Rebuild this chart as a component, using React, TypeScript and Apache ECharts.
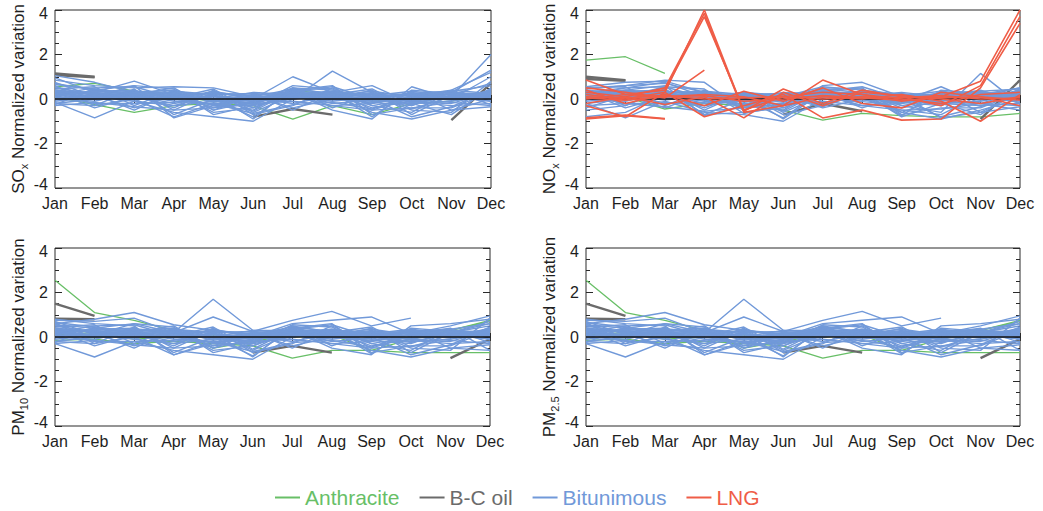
import React, { useEffect, useRef } from 'react';
import * as echarts from 'echarts';

type Line = (number | null)[];
const N = null;

const months = ['Jan', 'Feb', 'Mar', 'Apr', 'May', 'Jun', 'Jul', 'Aug', 'Sep', 'Oct', 'Nov', 'Dec'];
const fuelNames = ['Anthracite', 'B-C oil', 'Bitunimous', 'LNG'];
const zeroLine = [0, 0, 0, 0, 0, 0, 0, 0, 0, 0, 0, 0];

// ---------- SOx ----------
const soxAnthracite: Line[] = [
  [0.55, 0.7, 0.35, 0.1, -0.1, -0.2, 0.4, 0.2, -0.1, 0.0, 0.1, 0.3],
  [0.1, -0.25, -0.6, -0.3, -0.2, -0.3, -0.9, -0.3, -0.7, -0.2, -0.1, 0.2],
];
const soxBCOil: Line[] = [
  [1.15, 1.0, N, N, N, N, N, N, N, N, N, N],
  [1.08, 0.97, N, N, N, N, N, N, N, N, N, N],
  [N, N, N, N, N, -0.8, -0.45, -0.7, N, N, N, N],
  [N, N, N, N, N, N, N, N, N, N, -0.95, 0.7],
];
const soxBitunimous: Line[] = [
  [0.2, 0.15, 0.1, 0.05, -0.05, -0.1, 0.1, 0.05, -0.1, -0.05, 0.0, 0.1],
  [0.1, 0.0, 0.2, -0.1, -0.2, -0.15, 0.2, 0.1, 0.0, -0.2, -0.1, 0.2],
  [0.3, 0.2, 0.0, 0.1, 0.0, -0.2, 0.3, 0.2, -0.2, 0.1, 0.2, 0.0],
  [-0.1, 0.1, -0.1, -0.3, -0.1, 0.0, 0.1, -0.1, 0.1, -0.1, -0.2, 0.3],
  [0.0, -0.1, 0.3, 0.2, -0.3, -0.3, 0.0, 0.3, -0.3, 0.0, 0.1, -0.1],
  [0.25, 0.3, 0.15, -0.2, 0.1, -0.1, 0.35, 0.0, -0.15, -0.3, 0.3, 0.2],
  [-0.2, 0.0, 0.05, 0.0, -0.25, 0.05, -0.2, 0.15, 0.2, -0.15, -0.3, -0.2],
  [0.15, -0.2, -0.2, -0.15, 0.2, -0.4, 0.25, -0.2, -0.05, 0.25, 0.0, 0.4],
  [0.4, 0.25, 0.35, 0.3, -0.15, 0.1, 0.45, 0.25, -0.4, -0.1, 0.25, 0.1],
  [-0.3, -0.15, -0.35, -0.5, -0.4, -0.2, -0.1, -0.3, -0.5, -0.4, -0.15, -0.3],
  [0.05, 0.1, -0.05, 0.15, -0.05, -0.25, 0.05, -0.05, 0.05, -0.25, 0.15, 0.05],
  [0.35, 0.05, 0.25, -0.05, 0.15, -0.05, 0.2, 0.35, 0.1, 0.2, -0.05, 0.35],
  [0.3, 0.25, 0.2, 0.15, 0.1, 0.05, 0.25, 0.2, 0.1, 0.15, 0.2, 0.3],
  [0.15, 0.35, 0.3, 0.2, 0.25, 0.1, 0.15, 0.3, 0.2, 0.05, 0.1, 0.25],
  [0.4, 0.2, 0.1, 0.3, 0.15, -0.05, 0.35, 0.1, 0.25, 0.2, 0.3, 0.1],
  [0.05, 0.15, 0.25, 0.05, 0.3, 0.15, 0.05, 0.25, -0.05, 0.3, 0.05, 0.35],
  [0.25, 0.05, 0.35, 0.25, -0.05, 0.2, 0.3, 0.05, 0.3, -0.05, 0.25, 0.15],
  [0.35, 0.3, 0.0, 0.35, 0.2, 0.25, 0.1, 0.35, 0.05, 0.25, 0.35, 0.05],
  [0.1, 0.4, 0.15, 0.0, 0.35, 0.0, 0.4, 0.15, 0.35, 0.1, -0.05, 0.3],
  [0.2, 0.0, 0.3, 0.4, 0.0, 0.3, 0.2, 0.0, 0.15, 0.35, 0.15, 0.2],
  [1.05, 0.75, 0.3, 0.1, 0.0, -0.2, 0.2, 0.1, 0.0, -0.1, 0.1, 2.0],
  [0.95, 0.3, 0.8, 0.2, -0.3, -0.5, 0.5, 0.4, 0.1, 0.2, 0.3, 1.3],
  [0.85, 0.6, 0.5, 0.55, 0.5, 0.1, 0.0, 1.25, 0.3, -0.3, 0.4, 1.2],
  [-0.15, -0.85, -0.1, -0.6, -0.8, -1.0, 0.0, 0.2, -0.6, -0.9, -0.5, 0.0],
  [0.7, 0.4, 0.6, -0.85, -0.3, 0.0, 1.0, 0.3, 0.6, -0.2, -0.7, 0.5],
  [0.5, 0.2, -0.5, 0.3, -0.6, -0.4, 0.3, -0.5, -0.9, 0.55, 0.0, 1.0],
  [-0.25, 0.45, 0.2, -0.4, 0.4, -0.7, -0.3, 0.5, -0.3, -0.6, 0.35, -0.25],
  [0.6, -0.3, 0.45, -0.7, 0.0, -0.8, 0.4, 0.6, -0.7, -0.4, -0.4, 0.3],
  [0.45, 0.55, -0.3, 0.4, -0.5, 0.15, -0.4, 0.0, 0.4, -0.7, 0.2, 0.7],
  [-0.05, 0.35, 0.4, -0.5, 0.3, -0.6, 0.15, -0.3, -0.2, 0.3, -0.5, -0.35],
  [0.75, 0.1, 0.6, 0.45, -0.7, -0.3, 0.6, 0.45, -0.5, 0.05, 0.35, 0.6],
  [0.3, -0.4, 0.1, -0.3, 0.2, -0.9, 0.5, -0.4, 0.2, -0.5, -0.6, 0.8],
  [0.55, 0.15, -0.4, 0.25, -0.4, 0.2, -0.5, 0.3, -0.8, 0.4, 0.25, -0.1],
  [0.2, 0.5, 0.55, 0.05, 0.45, -0.55, 0.35, 0.55, 0.0, -0.8, -0.35, 0.45],
  [-0.2, -0.3, 0.0, -0.8, -0.2, -0.65, -0.25, -0.15, -0.45, 0.15, 0.4, 0.25],
  [0.65, 0.45, 0.2, 0.5, -0.5, -0.1, 0.5, 0.2, 0.45, -0.45, 0.1, 0.15],
];
const soxLNG: Line[] = [];

// ---------- NOx ----------
const noxAnthracite: Line[] = [
  [1.75, 1.9, 1.15, N, N, N, N, N, N, N, N, N],
  [0.2, 0.1, -0.45, -0.2, -0.3, -0.5, -0.95, -0.65, -0.75, -0.8, -0.8, -0.65],
];
const noxBCOil: Line[] = [
  [1.0, 0.85, N, N, N, N, N, N, N, N, N, N],
  [0.9, 0.82, N, N, N, N, N, N, N, N, N, N],
  [N, N, N, N, N, -0.7, -0.2, -0.55, N, N, N, N],
  [N, N, N, N, N, N, N, N, N, N, -0.9, 0.85],
];
const noxBitunimous: Line[] = [
  [0.2, 0.1, 0.0, 0.05, -0.1, -0.05, 0.1, 0.0, -0.1, -0.05, 0.05, 0.1],
  [0.1, 0.25, 0.15, -0.1, -0.2, -0.2, 0.2, 0.15, -0.05, -0.2, -0.1, 0.2],
  [0.35, 0.3, 0.25, 0.1, 0.05, -0.1, 0.3, 0.2, -0.2, 0.1, 0.2, 0.0],
  [-0.1, 0.05, -0.15, -0.3, -0.05, 0.05, 0.0, -0.1, 0.05, -0.15, -0.2, 0.3],
  [0.0, -0.1, 0.3, 0.2, -0.3, -0.3, 0.05, 0.3, -0.3, 0.0, 0.1, -0.15],
  [0.3, 0.4, 0.2, -0.2, 0.1, -0.15, 0.4, 0.05, -0.15, -0.3, 0.3, 0.25],
  [-0.2, 0.0, 0.05, -0.05, -0.25, 0.1, -0.2, 0.15, 0.15, -0.2, -0.3, -0.2],
  [0.15, -0.2, -0.2, -0.15, 0.2, -0.4, 0.25, -0.2, -0.05, 0.25, 0.0, 0.4],
  [0.45, 0.6, 0.7, 0.3, -0.15, 0.1, 0.45, 0.3, -0.4, -0.1, 0.3, 0.1],
  [-0.3, -0.2, -0.35, -0.55, -0.4, -0.25, -0.1, -0.3, -0.5, -0.45, -0.2, -0.3],
  [0.05, 0.15, -0.05, 0.15, -0.05, -0.25, 0.05, -0.05, 0.05, -0.25, 0.15, 0.05],
  [0.4, 0.05, 0.3, -0.05, 0.15, -0.05, 0.2, 0.35, 0.1, 0.2, -0.05, 0.35],
  [0.3, 0.2, 0.25, 0.15, 0.05, 0.1, 0.25, 0.2, 0.05, 0.15, 0.2, 0.25],
  [0.15, 0.35, 0.35, 0.2, 0.2, 0.05, 0.15, 0.3, 0.2, 0.05, 0.1, 0.3],
  [0.4, 0.25, 0.1, 0.3, 0.15, -0.05, 0.35, 0.1, 0.2, 0.2, 0.3, 0.1],
  [0.05, 0.1, 0.25, 0.05, 0.3, 0.15, 0.05, 0.25, -0.05, 0.3, 0.05, 0.35],
  [0.25, 0.05, 0.35, 0.25, -0.05, 0.2, 0.3, 0.05, 0.25, -0.05, 0.25, 0.15],
  [0.35, 0.3, 0.05, 0.35, 0.2, 0.25, 0.1, 0.35, 0.05, 0.25, 0.35, 0.05],
  [0.1, 0.4, 0.15, 0.0, 0.3, 0.0, 0.4, 0.15, 0.3, 0.1, -0.05, 0.3],
  [0.2, 0.0, 0.3, 0.35, 0.0, 0.3, 0.2, 0.0, 0.15, 0.35, 0.15, 0.2],
  [0.5, 0.6, 0.85, 0.75, -0.5, 0.2, 0.35, 0.2, 0.0, -0.1, 0.1, 0.5],
  [0.55, 0.75, 0.8, 0.3, -0.3, -0.5, 0.6, 0.75, 0.1, 0.2, 0.3, 0.2],
  [0.3, 0.5, 0.75, 0.1, 0.3, 0.1, 0.55, 0.4, 0.2, 0.1, 0.4, -0.2],
  [-0.2, -0.85, -0.1, -0.6, -0.7, -1.0, 0.0, 0.1, -0.6, -0.9, -0.5, 0.0],
  [0.25, 0.4, 0.6, -0.75, -0.3, 0.0, 0.3, 0.3, -0.8, -0.2, -0.7, 0.4],
  [-0.5, -0.3, 0.45, -0.7, -0.6, -0.4, 0.2, -0.3, -0.1, 0.55, -0.2, -0.5],
  [-0.8, -0.6, 0.2, -0.4, 0.25, -0.7, -0.3, 0.3, -0.3, -0.6, 1.15, -0.25],
  [0.4, -0.3, 0.45, -0.7, 0.0, -0.85, 0.4, 0.5, -0.7, -0.4, -0.4, 0.3],
  [0.5, 0.55, -0.3, 0.4, -0.5, 0.15, -0.4, 0.0, -0.5, -0.7, 0.2, 0.5],
  [-0.05, 0.35, 0.4, -0.5, 0.3, -0.6, 0.15, -0.3, -0.2, 0.3, -0.6, -0.35],
  [0.2, 0.1, 0.55, 0.45, -0.65, -0.3, 0.5, 0.45, -0.6, 0.05, 0.35, 0.45],
  [0.3, -0.4, 0.1, -0.3, 0.2, -0.9, 0.3, -0.4, 0.15, -0.85, -0.6, 0.3],
  [-0.4, 0.15, -0.4, 0.25, -0.4, 0.2, -0.35, 0.3, -0.75, 0.4, 0.25, -0.1],
  [0.15, 0.5, 0.55, 0.05, 0.3, -0.55, 0.35, 0.55, 0.0, -0.8, -0.35, 0.45],
];
const noxLNG: Line[] = [
  [0.85, 0.2, 0.4, 3.7, -0.5, 0.1, 0.3, 0.2, 0.0, -0.2, 0.2, 0.3],
  [0.3, 0.1, 0.5, 3.85, -0.6, -0.3, 0.85, 0.2, -0.1, 0.1, 0.8, 4.0],
  [0.2, 0.0, 0.3, 4.0, -0.55, 0.45, -0.2, 0.4, 0.1, -0.3, 0.6, 3.7],
  [-0.9, -0.75, -0.9, N, N, N, N, N, N, N, N, N],
  [-0.85, -0.72, -0.88, N, N, N, N, N, N, N, N, N],
  [-0.3, -0.8, 0.3, -0.8, -0.3, 0.2, -0.85, -0.5, -0.95, -0.9, 0.5, 3.4],
  [0.5, 0.3, 0.05, 1.3, N, N, N, N, N, N, N, N],
  [0.0, 0.2, 0.1, 0.2, 0.1, -0.3, 0.1, 0.0, 0.2, -0.1, -1.0, 0.2],
  [0.4, -0.2, 0.2, -0.3, 0.35, -0.1, 0.5, -0.2, -0.4, 0.3, 0.1, -0.3],
  [-0.2, 0.1, -0.25, 0.1, -0.85, 0.3, -0.3, 0.3, 0.15, 0.0, -0.2, 0.1],
  [0.1, 0.05, 0.15, 0.0, 0.05, 0.1, 0.0, 0.1, 0.05, 0.15, 0.0, 0.05],
  [0.05, -0.05, 0.1, 0.15, -0.1, 0.0, 0.15, 0.05, -0.05, 0.05, 0.1, -0.05],
];

// ---------- PM (PM10 and PM2.5 panels look identical) ----------
const pmAnthracite: Line[] = [
  [2.55, 1.1, 0.75, 0.3, -0.5, -0.2, 0.1, 0.0, 0.2, -0.1, 0.3, 0.7],
  [-0.15, -0.1, -0.3, -0.2, -0.3, -0.4, -0.95, -0.6, -0.6, -0.7, -0.7, -0.7],
  [0.1, 0.2, -0.1, 0.0, 0.1, 0.0, 0.0, 0.1, -0.6, -0.1, 0.3, 0.75],
];
const pmBCOil: Line[] = [
  [1.5, 0.95, N, N, N, N, N, N, N, N, N, N],
  [0.82, 0.8, N, N, N, N, N, N, N, N, N, N],
  [N, N, N, N, N, -0.7, -0.4, -0.7, N, N, N, N],
  [N, N, N, N, N, N, N, N, N, N, -0.95, -0.1],
];
const pmBitunimous: Line[] = [
  [0.2, 0.1, 0.1, 0.05, -0.05, -0.1, 0.1, 0.05, -0.1, -0.05, 0.0, 0.1],
  [0.1, 0.0, 0.2, -0.1, -0.2, -0.15, 0.2, 0.1, 0.0, -0.2, -0.1, 0.2],
  [0.3, 0.25, 0.0, 0.1, 0.0, -0.2, 0.3, 0.2, -0.2, 0.1, 0.2, 0.0],
  [-0.1, 0.1, -0.1, -0.3, -0.1, 0.0, 0.1, -0.1, 0.1, -0.1, -0.2, 0.3],
  [0.0, -0.1, 0.3, 0.2, -0.3, -0.3, 0.0, 0.3, -0.3, 0.0, 0.1, -0.1],
  [0.25, 0.3, 0.15, -0.2, 0.1, -0.1, 0.35, 0.0, -0.15, -0.3, 0.3, 0.2],
  [-0.2, 0.0, 0.05, 0.0, -0.25, 0.05, -0.2, 0.15, 0.2, -0.15, -0.3, -0.2],
  [0.15, -0.2, -0.2, -0.15, 0.2, -0.4, 0.25, -0.2, -0.05, 0.25, 0.0, 0.4],
  [0.4, 0.25, 0.35, 0.3, -0.15, 0.1, 0.45, 0.25, -0.4, -0.1, 0.25, 0.1],
  [-0.3, -0.15, -0.35, -0.5, -0.4, -0.2, -0.1, -0.3, -0.5, -0.4, -0.15, -0.3],
  [0.05, 0.1, -0.05, 0.15, -0.05, -0.25, 0.05, -0.05, 0.05, -0.25, 0.15, 0.05],
  [0.35, 0.05, 0.25, -0.05, 0.15, -0.05, 0.2, 0.35, 0.1, 0.2, -0.05, 0.35],
  [0.3, 0.25, 0.2, 0.15, 0.1, 0.05, 0.25, 0.2, 0.1, 0.15, 0.2, 0.3],
  [0.15, 0.35, 0.3, 0.2, 0.25, 0.1, 0.15, 0.3, 0.2, 0.05, 0.1, 0.25],
  [0.4, 0.2, 0.1, 0.3, 0.15, -0.05, 0.35, 0.1, 0.25, 0.2, 0.3, 0.1],
  [0.05, 0.15, 0.25, 0.05, 0.3, 0.15, 0.05, 0.25, -0.05, 0.3, 0.05, 0.35],
  [0.25, 0.05, 0.35, 0.25, -0.05, 0.2, 0.3, 0.05, 0.3, -0.05, 0.25, 0.15],
  [0.35, 0.3, 0.0, 0.35, 0.2, 0.25, 0.1, 0.35, 0.05, 0.25, 0.35, 0.05],
  [0.1, 0.4, 0.15, 0.0, 0.35, 0.0, 0.4, 0.15, 0.35, 0.1, -0.05, 0.3],
  [0.2, 0.0, 0.3, 0.4, 0.0, 0.3, 0.2, 0.0, 0.15, 0.35, 0.15, 0.2],
  [0.6, 0.8, 1.1, 0.55, 0.3, 0.1, 0.3, 0.2, 0.1, 0.3, 0.2, 0.5],
  [0.75, 0.7, 0.85, 0.2, 1.7, 0.3, 0.3, 0.2, 0.0, 0.1, 0.2, 0.6],
  [0.55, 0.4, 0.6, 0.2, 0.9, 0.25, 0.75, 1.15, 0.5, 0.85, N, N],
  [-0.3, -0.9, -0.2, -0.6, -0.8, -1.0, 0.0, 0.2, -0.6, -0.9, -0.5, -0.6],
  [0.8, 0.6, 0.5, -0.8, -0.3, 0.0, 0.6, 0.75, 0.9, 0.15, 0.5, 0.95],
  [0.5, 0.2, -0.5, 0.3, -0.6, -0.4, 0.3, -0.5, -0.8, 0.5, 0.6, 0.8],
  [-0.25, 0.45, 0.2, -0.4, 0.4, -0.7, -0.3, 0.5, -0.3, -0.6, 0.35, -0.25],
  [0.65, -0.3, 0.45, -0.7, 0.0, -0.85, 0.4, 0.6, -0.7, -0.4, -0.4, 0.3],
  [0.45, 0.55, -0.3, 0.4, -0.5, 0.15, -0.4, 0.0, 0.4, -0.7, 0.2, 0.7],
  [-0.05, 0.35, 0.4, -0.5, 0.3, -0.6, 0.15, -0.3, -0.2, 0.3, -0.5, -0.35],
  [0.7, 0.1, 0.6, 0.45, -0.7, -0.3, 0.55, 0.45, -0.5, 0.05, 0.35, 0.6],
  [0.3, -0.4, 0.1, -0.3, 0.2, -0.9, 0.5, -0.4, 0.2, -0.5, -0.6, 0.85],
  [0.55, 0.15, -0.4, 0.25, -0.4, 0.2, -0.5, 0.3, -0.75, 0.4, 0.25, -0.1],
  [0.2, 0.5, 0.55, 0.05, 0.45, -0.55, 0.35, 0.55, 0.0, -0.8, -0.35, 0.45],
  [-0.2, -0.3, 0.0, -0.8, -0.2, -0.65, -0.25, -0.15, -0.45, 0.15, 0.4, -0.6],
  [0.65, 0.45, 0.2, 0.5, -0.5, -0.1, 0.5, 0.2, 0.45, -0.45, 0.1, 0.15],
];
const pmLNG: Line[] = [];

// axis titles: [main, subscript]
const panelSpecies = [
  ['SO', 'x'],
  ['NO', 'x'],
  ['PM', '10'],
  ['PM', '2.5'],
];

const COLORS: Record<string, string> = {
  Anthracite: '#68bf67',
  'B-C oil': '#6b6b6b',
  Bitunimous: '#7199d9',
  LNG: '#ef5d47',
};

const GRIDS = [
  { left: 55, top: 10, width: 436, height: 178 },
  { left: 586, top: 10, width: 434, height: 178 },
  { left: 55, top: 248, width: 435, height: 178 },
  { left: 586, top: 248, width: 434, height: 178 },
];

const FONT = '"Liberation Sans", Arial, Helvetica, sans-serif';
const TXT = '#1e1e1e';

export default function App() {
  const ref = useRef<HTMLDivElement>(null);

  useEffect(() => {
    document.body.style.margin = '0';
    if (!ref.current) return;
    const chart = echarts.init(ref.current, undefined, { renderer: 'svg' });

    const panels = [
      { an: soxAnthracite, bc: soxBCOil, bi: soxBitunimous, lng: soxLNG },
      { an: noxAnthracite, bc: noxBCOil, bi: noxBitunimous, lng: noxLNG },
      { an: pmAnthracite, bc: pmBCOil, bi: pmBitunimous, lng: pmLNG },
      { an: pmAnthracite, bc: pmBCOil, bi: pmBitunimous, lng: pmLNG },
    ];

    const grid: any[] = [];
    const xAxis: any[] = [];
    const yAxis: any[] = [];
    const series: any[] = [];

    const mk = (data: Line[], name: string, width: number, gi: number, z: number) =>
      data.map((d) => ({
        type: 'line',
        name,
        data: d,
        xAxisIndex: gi * 2,
        yAxisIndex: gi * 2,
        symbol: 'none',
        showSymbol: false,
        silent: true,
        z,
        lineStyle: { color: COLORS[name], width },
        itemStyle: { color: COLORS[name] },
        emphasis: { disabled: true },
      }));

    GRIDS.forEach((g, gi) => {
      grid.push({ ...g, show: true, borderColor: '#2a2a2a', borderWidth: 1, backgroundColor: 'transparent' });
      const tickStyle = { color: '#2a2a2a', width: 1 };
      xAxis.push({
        gridIndex: gi,
        type: 'category',
        data: months,
        boundaryGap: false,
        axisLine: { show: false },
        axisTick: { show: true, inside: true, length: 4, lineStyle: tickStyle },
        axisLabel: { interval: 0, fontSize: 16, color: TXT, margin: 7, fontFamily: FONT },
        splitLine: { show: false },
      });
      xAxis.push({
        gridIndex: gi,
        type: 'category',
        position: 'top',
        data: months,
        boundaryGap: false,
        axisLine: { show: false },
        axisTick: { show: true, inside: true, length: 4, lineStyle: tickStyle },
        axisLabel: { show: false },
        splitLine: { show: false },
      });
      const [main, sub] = panelSpecies[gi];
      const common = {
        gridIndex: gi,
        type: 'value',
        min: -4,
        max: 4,
        interval: 2,
        axisLine: { show: false },
        axisTick: { show: true, inside: true, length: 7, lineStyle: tickStyle },
        minorTick: { show: true, splitNumber: 4, length: 4, lineStyle: tickStyle },
        splitLine: { show: false },
        minorSplitLine: { show: false },
      };
      yAxis.push({
        ...common,
        position: 'left',
        axisLabel: {
          fontSize: 16,
          color: TXT,
          margin: 7,
          fontFamily: FONT,
          formatter: (v: number) => (v === 4 ? '{t|4}' : v === -4 ? '{b|-4}' : String(v)),
          rich: {
            t: { fontSize: 16, color: TXT, fontFamily: FONT, padding: [7, 0, 0, 0] },
            b: { fontSize: 16, color: TXT, fontFamily: FONT, padding: [0, 0, 7, 0] },
          },
        },
        name: `{m|${main}}{s|${sub}}{m| Normalized variation}`,
        nameLocation: 'middle',
        nameRotate: 90,
        nameGap: 28,
        nameTextStyle: {
          fontFamily: FONT,
          color: TXT,
          fontSize: 17,
          rich: {
            m: { fontSize: 17, color: TXT, fontFamily: FONT, lineHeight: 20, verticalAlign: 'bottom' },
            s: { fontSize: 11, color: TXT, fontFamily: FONT, lineHeight: 12, verticalAlign: 'bottom', padding: [0, 0, -2, 0] },
          },
        },
      });
      yAxis.push({ ...common, position: 'right', axisLabel: { show: false } });

      const p = panels[gi];
      series.push(...mk(p.an, 'Anthracite', 1.3, gi, 2));
      series.push(...mk(p.bc, 'B-C oil', 2.4, gi, 3));
      series.push(...mk(p.bi, 'Bitunimous', 1.4, gi, 4));
      series.push({
        type: 'line',
        name: 'zero',
        data: zeroLine,
        xAxisIndex: gi * 2,
        yAxisIndex: gi * 2,
        symbol: 'none',
        silent: true,
        z: 5,
        lineStyle: { color: '#111', width: 1.6 },
      });
      series.push(...mk(p.lng, 'LNG', 1.6, gi, 6));
    });

    chart.setOption({
      animation: false,
      backgroundColor: '#fff',
      textStyle: { fontFamily: FONT },
      grid,
      xAxis,
      yAxis,
      series,
      legend: {
        left: 270,
        top: 482,
        selectedMode: false,
        icon: 'rect',
        itemWidth: 25,
        itemHeight: 2,
        itemGap: 20,
        data: fuelNames.map((n) => ({
          name: n,
          itemStyle: { color: COLORS[n] },
          textStyle: { color: COLORS[n], fontSize: 21, fontFamily: FONT },
        })),
      },
    });

    return () => chart.dispose();
  }, []);

  return <div ref={ref} style={{ width: 1043, height: 511 }} />;
}
